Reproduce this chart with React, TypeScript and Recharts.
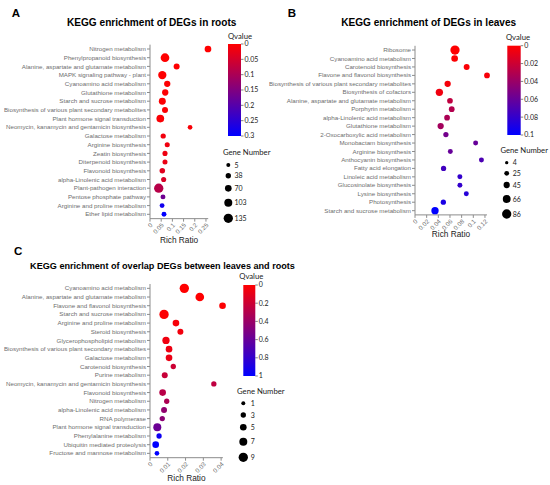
import React from 'react';
import { ScatterChart, Scatter, XAxis, YAxis, ZAxis, Cell } from 'recharts';

// ---------- Panel A: roots ----------
const rootsPathways = [
  'Nitrogen metabolism',
  'Phenylpropanoid biosynthesis',
  'Alanine, aspartate and glutamate metabolism',
  'MAPK signaling pathway - plant',
  'Cyanoamino acid metabolism',
  'Glutathione metabolism',
  'Starch and sucrose metabolism',
  'Biosynthesis of various plant secondary metabolites',
  'Plant hormone signal transduction',
  'Neomycin, kanamycin and gentamicin biosynthesis',
  'Galactose metabolism',
  'Arginine biosynthesis',
  'Zeatin biosynthesis',
  'Diterpenoid biosynthesis',
  'Flavonoid biosynthesis',
  'alpha-Linolenic acid metabolism',
  'Plant-pathogen interaction',
  'Pentose phosphate pathway',
  'Arginine and proline metabolism',
  'Ether lipid metabolism',
];
const rootsRichRatio = [0.259, 0.067, 0.119, 0.055, 0.077, 0.068, 0.055, 0.067, 0.046, 0.179, 0.059, 0.077, 0.067, 0.067, 0.055, 0.061, 0.039, 0.058, 0.054, 0.0625];
const rootsGeneNumber = [71, 120, 54, 110, 61, 61, 78, 54, 96, 22, 35, 31, 32, 30, 42, 33, 135, 28, 26, 27];
const rootsQvalue = [0.0001, 0.0002, 0.001, 0.001, 0.002, 0.003, 0.004, 0.005, 0.006, 0.008, 0.015, 0.018, 0.02, 0.024, 0.035, 0.045, 0.085, 0.17, 0.28, 0.3];
const rootsRatioTicks = [0, 0.05, 0.1, 0.15, 0.2, 0.25];
const rootsQTicks = [0, 0.05, 0.1, 0.15, 0.2, 0.25, 0.3];
const rootsGeneTicks = [5, 38, 70, 103, 135];

// ---------- Panel B: leaves ----------
const leavesPathways = [
  'Ribosome',
  'Cyanoamino acid metabolism',
  'Carotenoid biosynthesis',
  'Flavone and flavonol biosynthesis',
  'Biosynthesis of various plant secondary metabolites',
  'Biosynthesis of cofactors',
  'Alanine, aspartate and glutamate metabolism',
  'Porphyrin metabolism',
  'alpha-Linolenic acid metabolism',
  'Glutathione metabolism',
  '2-Oxocarboxylic acid metabolism',
  'Monobactam biosynthesis',
  'Arginine biosynthesis',
  'Anthocyanin biosynthesis',
  'Fatty acid elongation',
  'Linoleic acid metabolism',
  'Glucosinolate biosynthesis',
  'Lysine biosynthesis',
  'Photosynthesis',
  'Starch and sucrose metabolism',
];
const leavesRichRatio = [0.0686, 0.068, 0.0886, 0.1235, 0.056, 0.0418, 0.06, 0.063, 0.055, 0.044, 0.053, 0.104, 0.0606, 0.114, 0.049, 0.077, 0.077, 0.088, 0.0486, 0.0343];
const leavesGeneNumber = [86, 50, 40, 37, 45, 59, 37, 37, 37, 45, 31, 27, 27, 27, 31, 27, 27, 27, 31, 59];
const leavesQvalue = [0.0005, 0.001, 0.002, 0.003, 0.004, 0.006, 0.025, 0.03, 0.033, 0.036, 0.055, 0.06, 0.06, 0.07, 0.075, 0.08, 0.08, 0.085, 0.09, 0.1];
const leavesRatioTicks = [0, 0.02, 0.04, 0.06, 0.08, 0.1, 0.12];
const leavesQTicks = [0, 0.02, 0.04, 0.06, 0.08, 0.1];
const leavesGeneTicks = [4, 25, 45, 66, 86];

// ---------- Panel C: overlap ----------
const overlapPathways = [
  'Cyanoamino acid metabolism',
  'Alanine, aspartate and glutamate metabolism',
  'Flavone and flavonol biosynthesis',
  'Starch and sucrose metabolism',
  'Arginine and proline metabolism',
  'Steroid biosynthesis',
  'Glycerophospholipid metabolism',
  'Biosynthesis of various plant secondary metabolites',
  'Galactose metabolism',
  'Carotenoid biosynthesis',
  'Purine metabolism',
  'Neomycin, kanamycin and gentamicin biosynthesis',
  'Flavonoid biosynthesis',
  'Nitrogen metabolism',
  'alpha-Linolenic acid metabolism',
  'RNA polymerase',
  'Plant hormone signal transduction',
  'Phenylalanine metabolism',
  'Ubiquitin mediated proteolysis',
  'Fructose and mannose metabolism',
];
const overlapRichRatio = [0.0193, 0.028, 0.0408, 0.0079, 0.0146, 0.0171, 0.009, 0.0107, 0.0107, 0.0131, 0.0083, 0.0359, 0.0071, 0.0094, 0.0079, 0.0069, 0.0041, 0.0051, 0.0032, 0.0039];
const overlapGeneNumber = [9, 8, 5, 9, 5, 4, 6, 5, 5, 3, 4, 3, 5, 3, 4, 3, 7, 3, 5, 2];
const overlapQvalue = [0.001, 0.005, 0.01, 0.01, 0.03, 0.05, 0.06, 0.07, 0.08, 0.2, 0.22, 0.25, 0.28, 0.32, 0.43, 0.45, 0.58, 0.95, 1, 1];
const overlapRatioTicks = [0, 0.01, 0.02, 0.03, 0.04];
const overlapQTicks = [0, 0.2, 0.4, 0.6, 0.8, 1];
const overlapGeneTicks = [1, 3, 5, 7, 9];

// ---------- styling ----------
const FONT = '"Liberation Sans", Arial, sans-serif';
const LEGEND_FONT = 'Lato, "Open Sans", sans-serif';
const AXIS = '#8c8c8c';
const TICK = '#6e6e6e';

function qColor(q: number, qMax: number) {
  const t = Math.max(0, Math.min(1, q / qMax));
  return `rgb(${Math.round(255 * (1 - t))},0,${Math.round(255 * t)})`;
}

function buildRows(names: string[], ratio: number[], genes: number[], q: number[], qMax: number) {
  return names.map((name, i) => ({
    name,
    rank: i + 1,
    ratio: ratio[i],
    genes: genes[i],
    q: q[i],
    color: qColor(q[i], qMax),
  }));
}

const Bubble = (props: any) => {
  const { cx, cy, size, payload, fill } = props;
  if (cx == null || cy == null) return null;
  return <circle cx={cx} cy={cy} r={Math.max(0, (size ?? 6) / 2)} fill={payload?.color ?? fill} />;
};

const makeYTick = (names: string[]) => (props: any) => {
  const { x, y, payload } = props;
  const label = names[payload.value - 1] ?? '';
  return (
    <text x={x} y={y} dy={2.1} textAnchor="end" fontSize={6.2} fill={TICK} fontFamily={FONT}>
      {label}
    </text>
  );
};

const XTick = (props: any) => {
  const { x, y, payload } = props;
  return (
    <text
      x={x}
      y={y}
      dy={4.2}
      textAnchor="end"
      fontSize={6.2}
      fill={TICK}
      fontFamily={FONT}
      transform={`rotate(-45, ${x}, ${y})`}
    >
      {String(payload.value)}
    </text>
  );
};

type PanelProps = {
  left: number; top: number; width: number; height: number;
  margin: { top: number; right: number; bottom: number; left: number };
  yAxisWidth: number; xAxisHeight: number; labelOffset: number;
  rows: any[]; xDomain: [number, number]; xTicks: number[];
  zDomain: [number, number]; zRange: [number, number];
};

function Panel(p: PanelProps) {
  const n = p.rows.length;
  const names = p.rows.map((r) => r.name);
  return (
    <div style={{ position: 'absolute', left: p.left, top: p.top, width: p.width, height: p.height, overflow: 'visible' }}>
      <ScatterChart width={p.width} height={p.height} margin={p.margin} style={{ overflow: 'visible' }}>
        <XAxis
          type="number"
          dataKey="ratio"
          domain={p.xDomain}
          ticks={p.xTicks}
          interval={0}
          height={p.xAxisHeight}
          stroke={AXIS}
          tickSize={3}
          tickMargin={1}
          tick={<XTick />}
          label={{ value: 'Rich Ratio', position: 'insideBottom', offset: p.labelOffset, fontSize: 8.3, fill: '#222', fontFamily: FONT }}
        />
        <YAxis
          type="number"
          dataKey="rank"
          domain={[0.5, n + 0.5]}
          reversed
          ticks={p.rows.map((r) => r.rank)}
          interval={0}
          width={p.yAxisWidth}
          stroke={AXIS}
          tickSize={3}
          tickMargin={1}
          tick={makeYTick(names)}
        />
        <ZAxis type="number" dataKey="genes" domain={p.zDomain} range={p.zRange} />
        <Scatter data={p.rows} isAnimationActive={false} shape={Bubble}>
          {p.rows.map((r, i) => (
            <Cell key={i} fill={r.color} />
          ))}
        </Scatter>
      </ScatterChart>
    </div>
  );
}

function sizeOf(g: number, domain: [number, number], range: [number, number]) {
  return range[0] + ((g - domain[0]) / (domain[1] - domain[0])) * (range[1] - range[0]);
}

function QLegend({ id, x, y0, y1, w, ticks, titleX, titleY }: any) {
  const max = ticks[ticks.length - 1];
  return (
    <g>
      <defs>
        <linearGradient id={id} x1="0" y1="0" x2="0" y2="1">
          <stop offset="0%" stopColor="#ff0000" />
          <stop offset="50%" stopColor="#800080" />
          <stop offset="100%" stopColor="#0000ff" />
        </linearGradient>
      </defs>
      <text x={titleX} y={titleY} textAnchor="middle" fontSize={7.7} fontFamily={LEGEND_FONT} fill="#222">Qvalue</text>
      <rect x={x} y={y0} width={w} height={y1 - y0} fill={`url(#${id})`} />
      {ticks.map((t: number, i: number) => {
        const y = y0 + (t / max) * (y1 - y0);
        return (
          <g key={i}>
            <line x1={x + w} x2={x + w + 2.5} y1={y} y2={y} stroke="#333" strokeWidth={0.6} />
            <text x={x + w + 3.5} y={y + 2.4} fontSize={7} fontFamily={LEGEND_FONT} fill="#222">{String(t)}</text>
          </g>
        );
      })}
    </g>
  );
}

function SizeLegend({ x, ys, values, labelX, titleX, titleY, domain, range }: any) {
  return (
    <g>
      <text x={titleX} y={titleY} textAnchor="middle" fontSize={7.7} fontFamily={LEGEND_FONT} fill="#222">Gene Number</text>
      {values.map((v: number, i: number) => (
        <g key={i}>
          <circle cx={x} cy={ys[i]} r={sizeOf(v, domain, range) / 2} fill="#000" />
          <text x={labelX} y={ys[i] + 2.5} fontSize={7} fontFamily={LEGEND_FONT} fill="#222">{String(v)}</text>
        </g>
      ))}
    </g>
  );
}

const rootsRows = buildRows(rootsPathways, rootsRichRatio, rootsGeneNumber, rootsQvalue, 0.3);
const leavesRows = buildRows(leavesPathways, leavesRichRatio, leavesGeneNumber, leavesQvalue, 0.1);
const overlapRows = buildRows(overlapPathways, overlapRichRatio, overlapGeneNumber, overlapQvalue, 1);

const rootsZDomain: [number, number] = [0, 200];
const rootsZRange: [number, number] = [3.8, 11.96];
const leavesZDomain: [number, number] = [0, 100];
const leavesZRange: [number, number] = [3.0, 10.3];
const overlapZDomain: [number, number] = [0, 10];
const overlapZRange: [number, number] = [3.3, 10.0];

export default function App() {
  return (
    <div style={{ position: 'absolute', left: 0, top: 0, width: 550, height: 485, background: '#fff', overflow: 'hidden' }}>
      <style>{`.recharts-surface { overflow: visible; } .recharts-wrapper { overflow: visible; }`}</style>
      <Panel
        left={0} top={0} width={275} height={250}
        margin={{ top: 44.65, right: 66.8, bottom: 1.35, left: 0 }}
        yAxisWidth={150} xAxisHeight={30} labelOffset={6.15}
        rows={rootsRows} xDomain={[0, 0.26]} xTicks={rootsRatioTicks}
        zDomain={rootsZDomain} zRange={rootsZRange}
      />
      <Panel
        left={275} top={0} width={275} height={250}
        margin={{ top: 45.8, right: 63, bottom: 5.1, left: 0 }}
        yAxisWidth={140} xAxisHeight={30} labelOffset={7.9}
        rows={leavesRows} xDomain={[0, 0.1235]} xTicks={leavesRatioTicks}
        zDomain={leavesZDomain} zRange={leavesZRange}
      />
      <Panel
        left={0} top={245} width={275} height={240}
        margin={{ top: 39, right: 52.1, bottom: 0.3, left: 0 }}
        yAxisWidth={150} xAxisHeight={27} labelOffset={3.7}
        rows={overlapRows} xDomain={[0, 0.041]} xTicks={overlapRatioTicks}
        zDomain={overlapZDomain} zRange={overlapZRange}
      />
      <svg width={550} height={485} style={{ position: 'absolute', left: 0, top: 0, pointerEvents: 'none' }}>
        <text x={11.7} y={16.7} fontSize={11.5} fontWeight="bold" fontFamily={FONT} fill="#000">A</text>
        <text x={287.7} y={17} fontSize={11.5} fontWeight="bold" fontFamily={FONT} fill="#000">B</text>
        <text x={14} y={255} fontSize={11.5} fontWeight="bold" fontFamily={FONT} fill="#000">C</text>
        <text x={151.7} y={26.3} textAnchor="middle" fontSize={10.1} fontWeight="bold" fontFamily={FONT} fill="#000">KEGG enrichment of DEGs in roots</text>
        <text x={428.7} y={26.3} textAnchor="middle" fontSize={10.1} fontWeight="bold" fontFamily={FONT} fill="#000">KEGG enrichment of DEGs in leaves</text>
        <text x={162.5} y={268.5} textAnchor="middle" fontSize={9.1} fontWeight="bold" fontFamily={FONT} fill="#000">KEGG enrichment of overlap DEGs between leaves and roots</text>

        <QLegend id="gradA" x={228} y0={44} y1={136} w={13} ticks={rootsQTicks} titleX={240} titleY={38.5} />
        <SizeLegend x={228.3} ys={[165, 175.7, 188.3, 202.7, 218.3]} values={rootsGeneTicks} labelX={234.5}
          titleX={246.7} titleY={154.5} domain={rootsZDomain} range={rootsZRange} />

        <QLegend id="gradB" x={507.3} y0={45.7} y1={135} w={13.4} ticks={leavesQTicks} titleX={518} titleY={40} />
        <SizeLegend x={506.7} ys={[162.7, 173.3, 185, 199, 214]} values={leavesGeneTicks} labelX={512.7}
          titleX={524.2} titleY={152.8} domain={leavesZDomain} range={leavesZRange} />

        <QLegend id="gradC" x={243.3} y0={285} y1={376} w={12} ticks={overlapQTicks} titleX={251.3} titleY={278.5} />
        <SizeLegend x={243.3} ys={[403.3, 415, 427.3, 441.7, 457.3]} values={overlapGeneTicks} labelX={250.7}
          titleX={260.8} titleY={393.5} domain={overlapZDomain} range={overlapZRange} />
      </svg>
    </div>
  );
}
